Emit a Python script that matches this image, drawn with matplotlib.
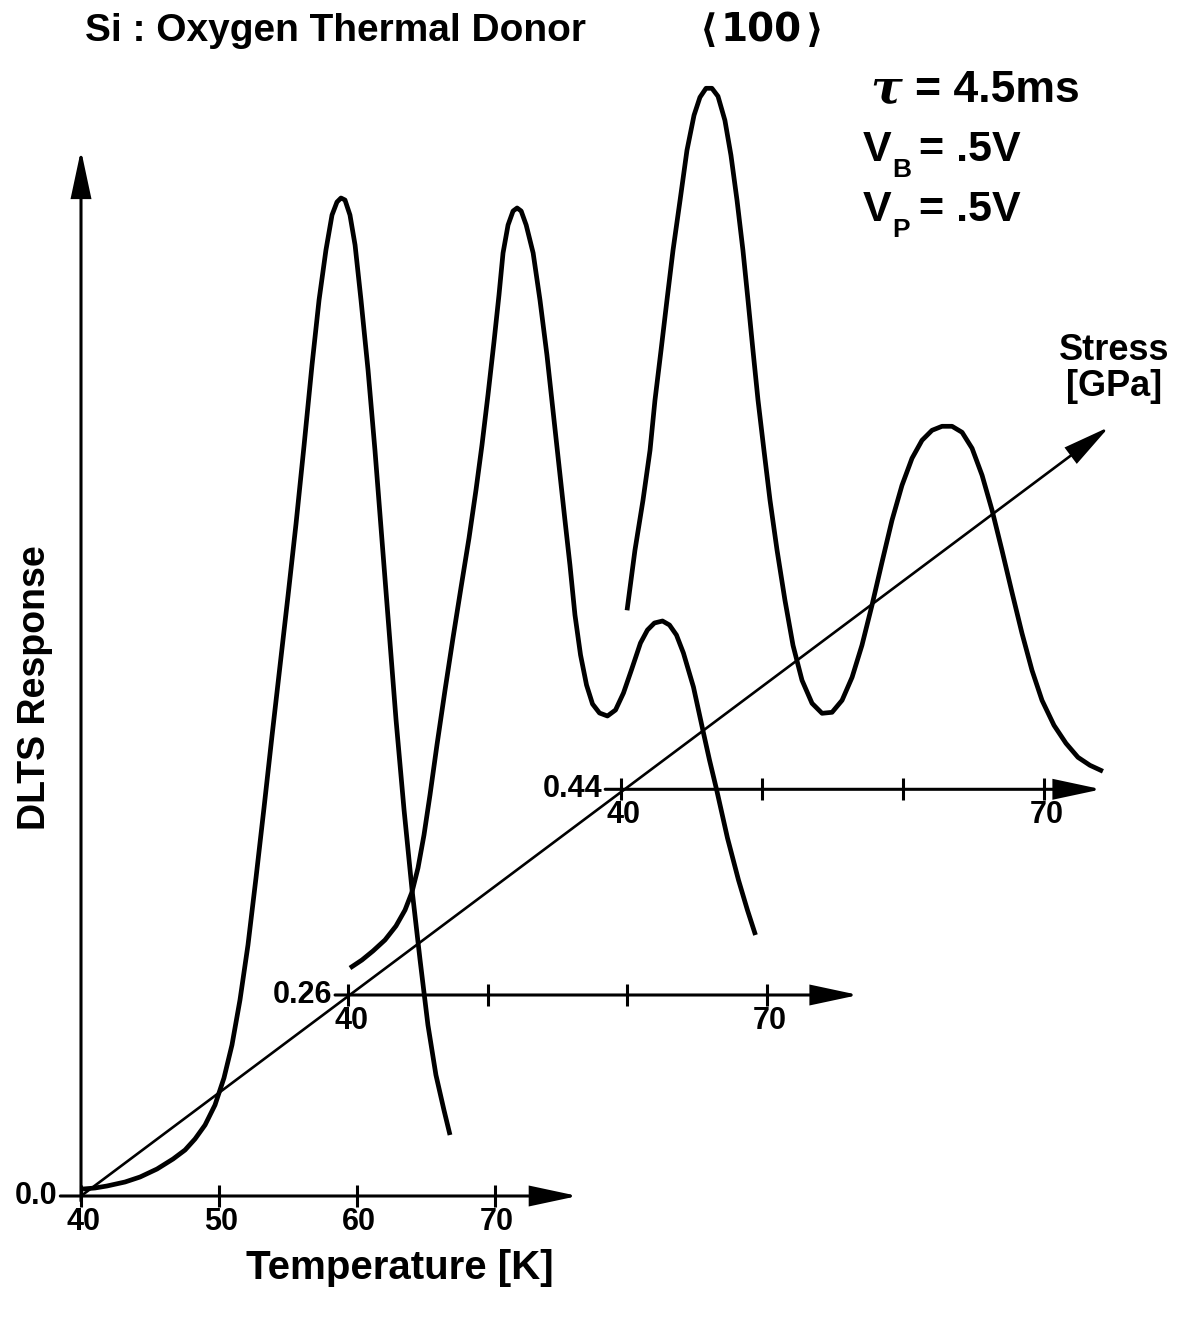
import matplotlib
matplotlib.use("Agg")
import matplotlib.pyplot as plt

# ---------------- data ----------------
stress_values = ["0.0", "0.26", "0.44"]          # GPa, one DLTS trace each
temp_ticks = [40, 50, 60, 70]
base_tick_labels = ["40", "50", "60", "70"]
offset_tick_labels = {40: "40", 70: "70"}

# trace at 0.0 GPa
T0 = [40.14, 41.01, 41.88, 43.19, 44.28, 45.51, 46.67, 47.54, 48.26, 48.99,
      49.71, 50.36, 50.94, 51.52, 52.10, 52.68, 53.26, 53.84, 54.42, 55.0,
      55.58, 56.16, 56.74, 57.25, 57.75, 58.19, 58.55, 58.84, 59.13, 59.49,
      59.86, 60.29, 60.80, 61.30, 61.81, 62.32, 62.83, 63.41, 63.99, 64.57,
      65.14, 65.72, 66.30, 66.74]
R0 = [0.07, 0.08, 0.10, 0.14, 0.19, 0.27, 0.37, 0.46, 0.57, 0.71,
      0.91, 1.18, 1.51, 1.96, 2.51, 3.18, 3.88, 4.60, 5.30, 6.00,
      6.72, 7.50, 8.31, 8.96, 9.46, 9.81, 9.94, 9.98, 9.96, 9.81,
      9.51, 8.96, 8.26, 7.46, 6.56, 5.66, 4.76, 3.86, 3.06, 2.36,
      1.71, 1.21, 0.86, 0.61]

# trace at 0.26 GPa
T1 = [40.12, 40.98, 41.77, 42.63, 43.42, 44.07, 44.57, 45.0, 45.43, 45.86,
      46.36, 46.94, 47.51, 48.08, 48.66, 49.16, 49.59, 50.02, 50.45, 50.81,
      51.10, 51.46, 51.82, 52.11, 52.40, 52.76, 53.26, 53.75, 54.25, 54.68,
      55.11, 55.54, 55.90, 56.26, 56.66, 57.09, 57.52, 58.02, 58.59, 59.17,
      59.74, 60.31, 60.96, 61.46, 61.96, 62.54, 63.04, 63.54, 64.04, 64.76,
      65.48, 65.91, 66.41, 67.20, 67.99, 68.63, 69.21]
R1 = [0.27, 0.35, 0.44, 0.55, 0.69, 0.85, 1.03, 1.27, 1.60, 2.00,
      2.50, 3.05, 3.57, 4.07, 4.57, 5.05, 5.50, 6.00, 6.53, 7.00,
      7.42, 7.70, 7.84, 7.87, 7.84, 7.70, 7.42, 6.95, 6.40, 5.85,
      5.30, 4.75, 4.30, 3.80, 3.40, 3.10, 2.91, 2.82, 2.79, 2.85,
      3.02, 3.25, 3.52, 3.65, 3.72, 3.74, 3.70, 3.60, 3.42, 3.08,
      2.62, 2.35, 2.06, 1.57, 1.15, 0.85, 0.60]

# trace at 0.44 GPa
T2 = [40.45, 41.01, 41.58, 42.08, 42.43, 42.86, 43.28, 43.71, 44.21, 44.70,
      45.20, 45.62, 46.05, 46.47, 46.90, 47.39, 47.82, 48.25, 48.67, 49.03,
      49.38, 49.74, 50.16, 50.59, 51.09, 51.65, 52.22, 52.86, 53.57, 54.28,
      54.99, 55.70, 56.41, 57.11, 57.82, 58.53, 59.24, 59.95, 60.66, 61.37,
      62.08, 62.79, 63.50, 64.21, 64.92, 65.63, 66.34, 67.04, 67.75, 68.46,
      69.17, 69.88, 70.73, 71.58, 72.43, 73.28, 74.20]
R2 = [1.79, 2.39, 2.89, 3.39, 3.89, 4.39, 4.89, 5.39, 5.89, 6.39,
      6.74, 6.92, 7.01, 7.01, 6.93, 6.69, 6.34, 5.89, 5.39, 4.89,
      4.39, 3.89, 3.39, 2.89, 2.39, 1.89, 1.44, 1.09, 0.86, 0.76,
      0.77, 0.89, 1.12, 1.44, 1.84, 2.27, 2.69, 3.04, 3.31, 3.49,
      3.59, 3.63, 3.63, 3.57, 3.41, 3.14, 2.79, 2.39, 1.97, 1.56,
      1.19, 0.89, 0.64, 0.46, 0.32, 0.24, 0.18]

traces = [(T0, R0), (T1, R1), (T2, R2)]

# ---------------- layout (pixels of the 1186x1320 canvas) ----------------
W, H = 1186, 1320
# origin of each trace's temperature axis (x px, y px from top) and px per K
origins = [(81.0, 1196.0, 13.8), (348.3, 995.0, 13.94), (620.7, 789.3, 14.1)]
VPX = 100.0                     # px per response unit
axis_span = [(38.5, 76.0), (39.05, 76.6), (38.9, 74.1)]   # horizontal axis extent (K)
resp_top = 10.46                # vertical arrow tip (response units)
stress_tip_px = (1109, 427)     # tip of the stress arrow

CURVE_LW = 3.4
AX_LW = 2.2
BOLD = ["Liberation Sans", "DejaVu Sans"]
NUM_FS = 22

fig = plt.figure(figsize=(W / 100, H / 100), dpi=100)
fig.patch.set_facecolor("white")

axes = []
for i, (ox, oy, s) in enumerate(origins):
    ax = fig.add_axes([0, 0, 1, 1], label=f"trace{i}")
    ax.set_xlim(40 - ox / s, 40 + (W - ox) / s)
    ax.set_ylim(-(H - oy) / VPX, oy / VPX)
    ax.axis("off")
    ax.patch.set_alpha(0)
    axes.append(ax)


def arrow(ax, start, tip, lw=AX_LW):
    ax.annotate("", xy=tip, xytext=start,
                arrowprops=dict(arrowstyle="-|>,head_length=2.9,head_width=0.62",
                                lw=lw, color="black", shrinkA=0, shrinkB=0,
                                joinstyle="miter"))


tick_h = 0.11
for i, ax in enumerate(axes):
    t0, t1 = axis_span[i]
    arrow(ax, (t0, 0), (t1, 0))
    for t in temp_ticks:
        ax.plot([t, t], [-tick_h, tick_h], color="black", lw=AX_LW,
                solid_capstyle="butt")
    if i == 0:
        for t, lab in zip(temp_ticks, base_tick_labels):
            ax.text(t + 0.15, -0.11, lab, ha="center", va="top", fontsize=NUM_FS,
                    fontweight="bold", family=BOLD)
    else:
        for t, lab in offset_tick_labels.items():
            ax.text(t + 0.2, -0.11, lab, ha="center", va="top", fontsize=NUM_FS,
                    fontweight="bold", family=BOLD)
    ax.text(t0 - 0.2, 0.0, stress_values[i], ha="right", va="center",
            fontsize=NUM_FS, fontweight="bold", family=BOLD)
    T, R = traces[i]
    ax.plot(T, R, color="black", lw=CURVE_LW, solid_joinstyle="round",
            solid_capstyle="butt")

# vertical response axis
arrow(axes[0], (40, -0.05), (40, resp_top))

# stress axis (diagonal) drawn in the base trace's coordinates
ox, oy, s = origins[0]
tipT = 40 + (stress_tip_px[0] - ox) / s
tipR = (oy - stress_tip_px[1]) / VPX
arrow(axes[0], (40, 0), (tipT, tipR), lw=1.9)


def ftext(x, y, txt, **kw):
    fig.text(x / W, 1 - y / H, txt, **kw)


ftext(85, 31, "Si : Oxygen Thermal Donor", ha="left", va="center",
      fontsize=28, fontweight="bold", family=BOLD)
ftext(700, 31, "\u27e8", ha="left", va="center",
      fontsize=28, fontweight="bold", family=["DejaVu Sans"])
ftext(721, 31, "100", ha="left", va="center",
      fontsize=28, fontweight="bold", family=["DejaVu Sans"])
ftext(806, 31, "\u27e9", ha="left", va="center",
      fontsize=28, fontweight="bold", family=["DejaVu Sans"])

ftext(870, 90, "\u03c4", ha="left", va="center", fontsize=34,
      fontweight="bold", fontstyle="italic", family=["DejaVu Serif"])
ftext(915, 91, "= 4.5ms", ha="left", va="center", fontsize=32,
      fontweight="bold", family=BOLD)
for yy, sub in ((150, "B"), (210, "P")):
    ftext(863, yy, "V", ha="left", va="center", fontsize=31,
          fontweight="bold", family=BOLD)
    ftext(892, yy + 20, sub, ha="left", va="center", fontsize=19,
          fontweight="bold", family=BOLD)
    ftext(919, yy, "= .5V", ha="left", va="center", fontsize=31,
          fontweight="bold", family=BOLD)

ftext(1169, 350, "Stress", ha="right", va="center", fontsize=26,
      fontweight="bold", family=BOLD)
ftext(1162, 387, "[GPa]", ha="right", va="center", fontsize=26,
      fontweight="bold", family=BOLD)

ftext(35, 688, "DLTS Response", ha="center", va="center", rotation=90,
      fontsize=27, fontweight="bold", family=BOLD)
ftext(400, 1268, "Temperature [K]", ha="center", va="center",
      fontsize=29, fontweight="bold", family=BOLD)

fig.savefig("out.png", dpi=100, facecolor="white")
